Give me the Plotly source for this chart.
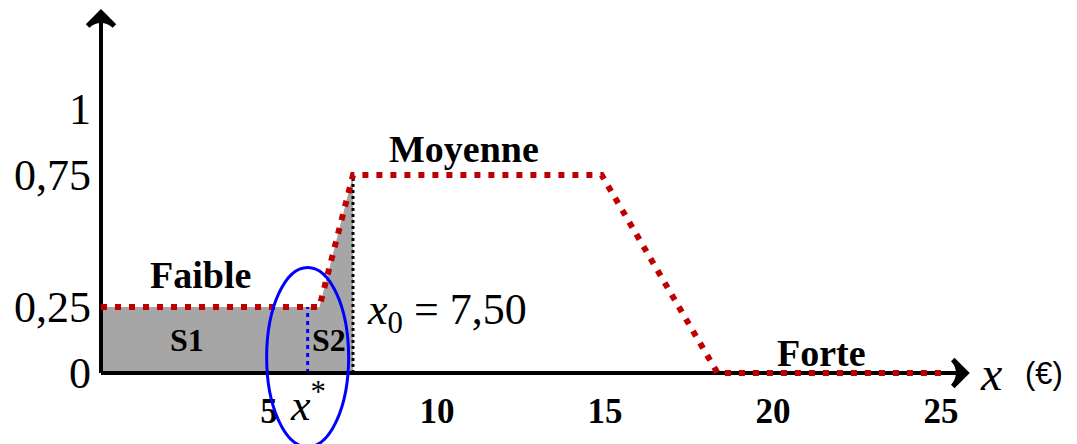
import plotly.graph_objects as go

x_pts = [0, 6.5, 7.5, 14.9, 18.35, 25]
y_pts = [0.25, 0.25, 0.75, 0.75, 0, 0]
x0 = 7.5
x_star = 6.15
x_ticks = [5, 10, 15, 20, 25]
y_ticks = [0, 0.25, 0.75, 1]
y_labels = ["0", "0,25", "0,75", "1"]
x_axis_end = 25.75
y_axis_end = 1.365

SERIF = "Liberation Serif"
RED = "#C00000"

# la page ajoute une marge de 8 px : figure un peu plus petite que la fenêtre
W, H = 1069, 436
PX_X, PX_Y = 33.6, 264.0      # pixels par unité
ORIG_X, ORIG_Y = 93, 365      # position de l'origine dans la figure

# surface grise sous la courbe jusqu'à x0
fill_x = [0] + [v for v in x_pts if v <= x0] + [x0]
fill_y = [0] + [y_pts[i] for i, v in enumerate(x_pts) if v <= x0] + [0]

fig = go.Figure()
fig.add_trace(go.Scatter(x=fill_x, y=fill_y, fill="toself", mode="none",
                         fillcolor="#A6A6A6", hoverinfo="skip"))
fig.add_trace(go.Scatter(x=[x0, x0], y=[0, y_pts[2]], mode="lines",
                         line=dict(color="black", width=3, dash="3px,3px")))
fig.add_trace(go.Scatter(x=[x_star, x_star], y=[0, y_pts[1]], mode="lines",
                         line=dict(color="#0000FF", width=3, dash="4px,4px")))

# axes avec flèches
arrow = dict(symbol=["circle", "arrow-wide-open"], size=[0, 19], angleref="previous",
             color="black", opacity=1, line=dict(color="black", width=5))
fig.add_trace(go.Scatter(x=[0, x_axis_end], y=[0, 0], mode="lines+markers",
                         line=dict(color="black", width=4), marker=arrow))
fig.add_trace(go.Scatter(x=[0, 0], y=[0, y_axis_end], mode="lines+markers",
                         line=dict(color="black", width=4), marker=arrow))

fig.add_trace(go.Scatter(x=x_pts, y=y_pts, mode="lines",
                         line=dict(color=RED, width=6, dash="6px,8px")))

# ellipse autour de x*
fig.add_shape(type="circle", xref="x", yref="y",
              x0=x_star - 1.22, x1=x_star + 1.22, y0=-0.28, y1=0.40,
              line=dict(color="#0000FF", width=3))

def label(text, x, y, size, bold=True, xanchor="center", family=SERIF):
    fig.add_annotation(x=x, y=y, text=f"<b>{text}</b>" if bold else text,
                       showarrow=False, xanchor=xanchor, yanchor="middle",
                       font=dict(family=family, size=size, color="black"))

label("Faible", 2.95, 0.37, 38)
label("Moyenne", 10.8, 0.85, 38)
label("Forte", 21.45, 0.075, 38)
label("S1", 2.56, 0.125, 32)
label("S2", 6.78, 0.125, 32)
label("<i>x</i><sub>0</sub> = 7,50", 7.85, 0.23, 44, bold=False, xanchor="left")
label("<i>x</i><sup>*</sup>", x_star, -0.11, 44, bold=False)
fig.add_annotation(x=26.1, y=0, text="<i>x</i>", showarrow=False, xanchor="left",
                   yanchor="middle", font=dict(family=SERIF, size=48, color="black"))
fig.add_annotation(x=27.45, y=0, text="(€)", showarrow=False, xanchor="left",
                   yanchor="middle", font=dict(family="Liberation Sans", size=31, color="black"))

fig.update_layout(
    width=W, height=H, margin=dict(l=0, r=0, t=0, b=0),
    paper_bgcolor="white", plot_bgcolor="white", showlegend=False,
    xaxis=dict(range=[-ORIG_X / PX_X, (W - ORIG_X) / PX_X], showgrid=False,
               zeroline=False, showline=False,
               tickvals=x_ticks, ticktext=[f"<b>{v}</b>" for v in x_ticks],
               tickfont=dict(family=SERIF, size=35, color="black"), automargin=False,
               anchor="free", position=(H - ORIG_Y) / H, ticks="", ticklabelstandoff=14),
    yaxis=dict(range=[-(H - ORIG_Y) / PX_Y, ORIG_Y / PX_Y], showgrid=False,
               zeroline=False, showline=False,
               tickvals=y_ticks, ticktext=y_labels, automargin=False,
               tickfont=dict(family=SERIF, size=44, color="black"),
               anchor="free", position=ORIG_X / W, ticks="", ticklabelstandoff=10),
)

fig.write_html("out.html")
